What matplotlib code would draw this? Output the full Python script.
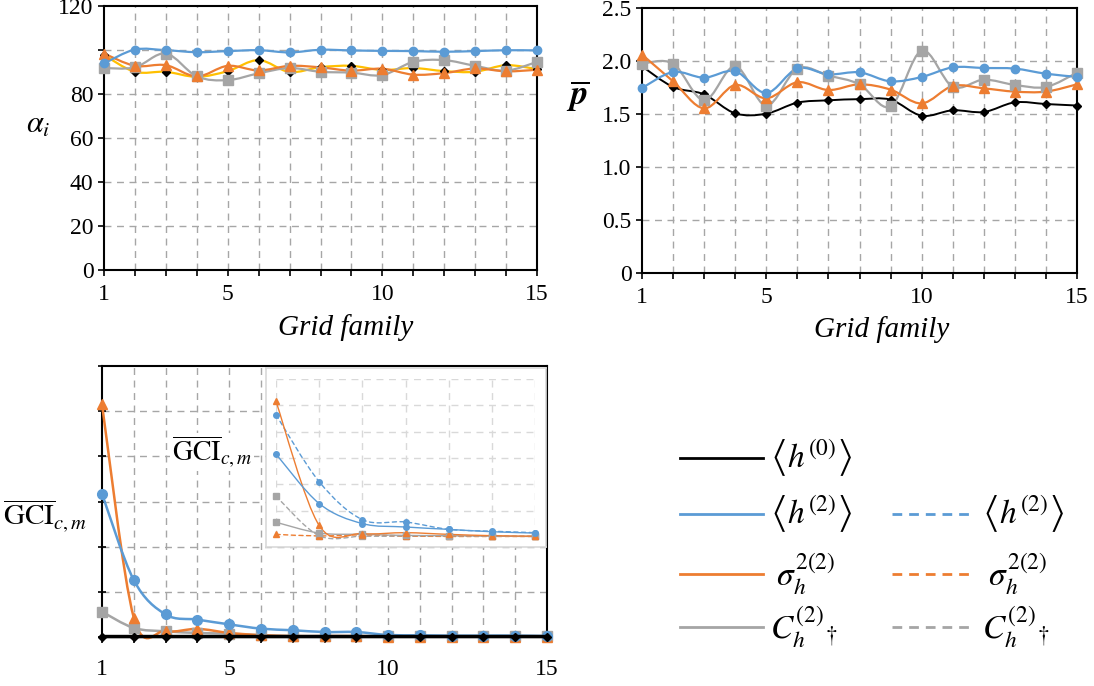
import numpy as np
import matplotlib
matplotlib.use("Agg")
import matplotlib.pyplot as plt
from matplotlib.path import Path
from matplotlib.patches import PathPatch
from matplotlib.lines import Line2D

plt.rcParams['font.family'] = ['Liberation Serif', 'DejaVu Serif']
plt.rcParams['mathtext.fontset'] = 'stix'

# ---------------- data ----------------
grid = list(range(1, 16))

# alpha_i (top-left)
alpha_h0 = [97.7, 90.1, 90.1, 87.8, 90.4, 95.4, 90.0, 92.2, 92.8, 90.9, 91.8, 90.4, 90.1, 93.1, 91.3]
alpha_h2 = [93.9, 100.2, 99.9, 99.0, 99.5, 99.9, 98.9, 100.1, 99.8, 99.6, 99.5, 99.2, 99.5, 99.9, 99.8]
alpha_sig = [98.4, 92.8, 93.1, 88.0, 92.8, 90.7, 92.8, 92.1, 90.6, 91.5, 88.8, 89.5, 91.6, 90.3, 91.0]
alpha_C = [91.8, 92.1, 98.4, 88.0, 86.3, 89.4, 91.8, 90.1, 89.7, 88.6, 94.6, 95.4, 92.8, 90.6, 94.6]

# p-bar (top-right)
p_h0 = [1.95, 1.755, 1.685, 1.506, 1.503, 1.607, 1.629, 1.64, 1.635, 1.484, 1.535, 1.519, 1.61, 1.594, 1.58]
p_h2 = [1.745, 1.896, 1.843, 1.903, 1.698, 1.93, 1.874, 1.893, 1.808, 1.849, 1.94, 1.934, 1.928, 1.88, 1.85]
p_sig = [2.06, 1.808, 1.553, 1.774, 1.648, 1.80, 1.726, 1.78, 1.73, 1.60, 1.764, 1.742, 1.711, 1.711, 1.78]
p_C = [1.975, 1.975, 1.629, 1.95, 1.579, 1.928, 1.862, 1.78, 1.572, 2.097, 1.758, 1.824, 1.774, 1.755, 1.89]

# GCI (bottom-left), arbitrary units (grid of 6 divisions)
gci_h0 = [0.01] * 15
gci_h2 = [3.17, 1.26, 0.50, 0.385, 0.28, 0.185, 0.15, 0.11, 0.11, 0.045, 0.037, 0.03, 0.03, 0.03, 0.02]
gci_sig = [5.15, 0.43, 0.13, 0.18, 0.09, 0.04, 0.02, 0.02, 0.02, 0.01, 0.01, 0.01, 0.01, 0.01, 0.01]
gci_C = [0.56, 0.20, 0.126, 0.09, 0.074, 0.04, 0.02, 0.02, 0.02, 0.02, 0.02, 0.02, 0.02, 0.02, 0.02]

# inset (grid families 1-7), solid and dashed variants
inset_grid = list(range(1, 8))
ins_h2 = [3.15, 1.27, 0.51, 0.38, 0.29, 0.20, 0.15]
ins_sig = [5.15, 0.44, 0.13, 0.165, 0.10, 0.05, 0.03]
ins_C = [0.56, 0.15, 0.10, 0.06, 0.05, 0.03, 0.02]
ins_h2_d = [4.64, 2.10, 0.66, 0.57, 0.29, 0.22, 0.165]
ins_sig_d = [0.10, 0.04, 0.08, 0.04, 0.02, 0.02, 0.02]
ins_C_d = [1.55, 0.05, 0.03, 0.03, 0.03, 0.03, 0.03]

BLUE = '#5B9BD5'
ORANGE = '#ED7D31'
GRAY = '#A5A5A5'
YELLOW = '#FFC000'
GRIDC = '#A6A6A6'


def smooth(ax, x, y, color, lw=1.6, ls='-', zorder=3, clip=True):
    """Excel-like smoothed line drawn as cubic Bezier path."""
    x = np.asarray(x, float)
    y = np.asarray(y, float)
    n = len(x)
    verts = [(x[0], y[0])]
    codes = [Path.MOVETO]
    for i in range(n - 1):
        x0, y0 = (x[i - 1], y[i - 1]) if i > 0 else (x[i], y[i])
        x3, y3 = (x[i + 2], y[i + 2]) if i + 2 < n else (x[i + 1], y[i + 1])
        c1 = (x[i] + (x[i + 1] - x0) / 6.0, y[i] + (y[i + 1] - y0) / 6.0)
        c2 = (x[i + 1] - (x3 - x[i]) / 6.0, y[i + 1] - (y3 - y[i]) / 6.0)
        verts += [c1, c2, (x[i + 1], y[i + 1])]
        codes += [Path.CURVE4] * 3
    patch = PathPatch(Path(verts, codes), fill=False, edgecolor=color, lw=lw,
                      linestyle=ls, zorder=zorder, capstyle='round', joinstyle='round')
    patch.set_clip_on(clip)
    ax.add_patch(patch)


def series(ax, x, y, color, marker, ms, mcolor=None, ls='-', lw=1.6, zorder=3, clip=False):
    smooth(ax, x, y, color, lw=lw, ls=ls, zorder=zorder, clip=clip)
    ax.plot(x, y, ls='none', marker=marker, ms=ms, color=mcolor or color,
            mec=mcolor or color, zorder=zorder + 0.5, clip_on=clip)


def style_axes(ax, ymax, ystep, yticklabels, xlabelpad=6):
    ax.set_xlim(1, 15)
    ax.set_ylim(0, ymax)
    ax.set_xticks(grid)
    ax.set_xticklabels([str(g) if g in (1, 5, 10, 15) else '' for g in grid])
    ax.set_yticks(np.arange(0, ymax + ystep / 2, ystep))
    if yticklabels is not None:
        ax.set_yticklabels(yticklabels)
    else:
        ax.set_yticklabels([])
    for s in ax.spines.values():
        s.set_color('black')
        s.set_linewidth(1.5)
    ax.tick_params(axis='both', labelsize=17, width=1.2, length=4, direction='out')
    ax.tick_params(axis='x', pad=xlabelpad)
    for g in grid[1:-1]:
        ax.axvline(g, color=GRIDC, lw=1.0, ls=(0, (5, 4)), zorder=1)
    for v in np.arange(ystep, ymax - ystep / 2, ystep):
        ax.axhline(v, color=GRIDC, lw=1.0, ls=(0, (5, 4)), zorder=1)


W, H = 1094, 686
fig = plt.figure(figsize=(W / 100, H / 100), dpi=100)


def fax(l, t, r, b):
    return fig.add_axes([l / W, 1 - b / H, (r - l) / W, (b - t) / H])


def ftext(x, y, s, **kw):
    return fig.text(x / W, 1 - y / H, s, **kw)


# ---------------- top-left ----------------
ax1 = fax(104, 6, 537, 270)
style_axes(ax1, 120, 20, ['0', '20', '40', '60', '80', '', '120'])
series(ax1, grid, alpha_h0, YELLOW, 'D', 4.5, mcolor='black')
series(ax1, grid, alpha_C, GRAY, 's', 6.5)
series(ax1, grid, alpha_sig, ORANGE, '^', 6.5)
series(ax1, grid, alpha_h2, BLUE, 'o', 6)
ftext(346, 328, 'Grid family', fontsize=21, style='italic', ha='center', va='center')
ftext(38, 125, r'$\alpha_i$', fontsize=22, ha='center', va='center')

# ---------------- top-right ----------------
ax2 = fax(642, 8, 1077, 273)
style_axes(ax2, 2.5, 0.5, ['0', '0.5', '1.0', '1.5', '2.0', '2.5'])
series(ax2, grid, p_h0, 'black', 'D', 4.5, lw=1.4)
series(ax2, grid, p_C, GRAY, 's', 6.5)
series(ax2, grid, p_sig, ORANGE, '^', 6.5)
series(ax2, grid, p_h2, BLUE, 'o', 6)
ftext(882, 330, 'Grid family', fontsize=21, style='italic', ha='center', va='center')
ftext(578, 96, r'$\overline{\mathbfit{p}}$', fontsize=25, ha='center', va='center')

# ---------------- bottom-left ----------------
ax3 = fax(102, 366, 547, 637)
style_axes(ax3, 6, 1, None, xlabelpad=12)
ax3.tick_params(axis='y', direction='inout', length=6)
series(ax3, grid, gci_C, GRAY, 's', 7, lw=1.8)
series(ax3, grid, gci_sig, ORANGE, '^', 7, lw=1.8)
series(ax3, grid, gci_h2, BLUE, 'o', 7, lw=1.8)
series(ax3, grid, gci_h0, 'black', 'D', 4.5, lw=2.5, zorder=4)
ftext(45, 516, r'$\overline{\mathrm{GCI}}_{c,m}$', fontsize=21, ha='center', va='center')
ftext(212, 452, r'$\overline{\mathrm{GCI}}_{c,m}$', fontsize=20, ha='center', va='center',
      bbox=dict(facecolor='white', edgecolor='none', pad=1), zorder=5)

# inset background box
axb = fax(266, 368, 546, 547)
axb.set_xticks([])
axb.set_yticks([])
for s in axb.spines.values():
    s.set_color('#D9D9D9')
    s.set_linewidth(1.2)
axb.set_facecolor('white')

axi = fax(276, 379, 535, 537)
axi.set_xlim(1, 7)
axi.set_ylim(0, 6)
axi.set_xticks(inset_grid)
axi.set_yticks(range(7))
axi.set_xticklabels([])
axi.set_yticklabels([])
axi.tick_params(length=0)
for s in axi.spines.values():
    s.set_visible(False)
axi.patch.set_alpha(0)
axi.grid(True, color='#D9D9D9', lw=1.0, ls=(0, (5, 4)))
series(axi, inset_grid, ins_C_d, GRAY, 's', 4, ls=(0, (3, 2.5)), lw=1.0)
series(axi, inset_grid, ins_sig_d, ORANGE, '^', 4, ls=(0, (3, 2.5)), lw=1.0)
series(axi, inset_grid, ins_h2_d, BLUE, 'o', 4, ls=(0, (3, 2.5)), lw=1.0)
series(axi, inset_grid, ins_C, GRAY, 's', 4, lw=1.0)
series(axi, inset_grid, ins_sig, ORANGE, '^', 4, lw=1.0)
series(axi, inset_grid, ins_h2, BLUE, 'o', 4, lw=1.0)

# ---------------- legend (manual) ----------------
legend_rows = [
    (458, 'black', r'$\left\langle h^{(0)}_{\,}\right\rangle$', False),
    (514, BLUE, r'$\left\langle h^{(2)}_{\,}\right\rangle$', True),
    (574, ORANGE, r'$\;\sigma_h^{2(2)}$', True),
    (627, GRAY, r'$C_h^{(2)}{}_{\dagger}$', True),
]
for y, col, lab, dashed in legend_rows:
    fig.add_artist(Line2D([680 / W, 763 / W], [1 - y / H] * 2, color=col, lw=2.0))
    ftext(770, y, lab, fontsize=24, ha='left', va='center')
    if dashed:
        fig.add_artist(Line2D([892 / W, 975 / W], [1 - y / H] * 2, color=col, lw=2.0,
                              ls=(0, (3.5, 2.5))))
        ftext(982, y, lab, fontsize=24, ha='left', va='center')

fig.savefig('out.png', dpi=100)
